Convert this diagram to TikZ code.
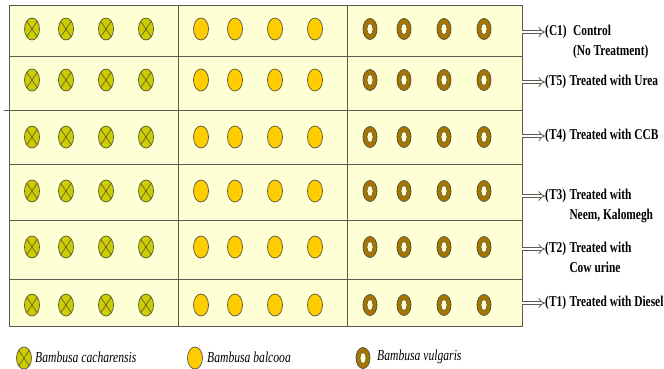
\documentclass[tikz,border=0pt]{standalone}
\usepackage{fontspec}
\setmainfont{Liberation Serif}
\newfontfamily\lblfont[FakeStretch=0.76]{Liberation Serif}
\usetikzlibrary{arrows.meta, positioning}
\definecolor{PaleCream}{HTML}{FFFFD5}
\definecolor{GridGray}{HTML}{5A5A50}
\definecolor{OliveYellow}{HTML}{CCCC00}
\definecolor{Amber}{HTML}{FFCC00}
\definecolor{Bronze}{HTML}{A87400}
\definecolor{RimDark}{HTML}{55553A}

\tikzset{
  gridline/.style={GridGray, line width=0.9pt},
  cach/.pic={
    \draw[RimDark, line width=0.7pt, fill=OliveYellow] (0,0) ellipse [x radius=7.5pt, y radius=11pt];
    \draw[RimDark, line width=0.6pt] (-5.3,-7.8) -- (5.3,7.8) (-5.3,7.8) -- (5.3,-7.8);
  },
  balc/.pic={
    \draw[RimDark, line width=0.7pt, fill=Amber] (0,0) ellipse [x radius=7.5pt, y radius=11pt];
  },
  vulg/.pic={
    \draw[RimDark, line width=0.8pt, fill=Bronze] (0,0) ellipse [x radius=7pt, y radius=10.5pt];
    \draw[RimDark, line width=0.5pt, fill=PaleCream] (0,0) ellipse [x radius=3pt, y radius=5.5pt];
  },
  tag/.style={font=\lblfont\bfseries\fontsize{15}{19.5}\selectfont, inner sep=0pt, anchor=west},
  desc/.style={font=\lblfont\bfseries\fontsize{15}{19.5}\selectfont, inner sep=0pt,
    anchor=north west, align=left, xshift=3pt},
  legendtxt/.style={font=\lblfont\itshape\fontsize{15.3}{17}\selectfont, inner sep=0pt, anchor=west},
  hollow/.style={draw=GridGray, line width=0.8pt, double=white, double distance=2.6pt, -{Implies}},
}

\begin{document}
\begin{tikzpicture}[x=1pt, y=-1pt]
  \useasboundingbox (0,0) rectangle (664,368);

  % plots
  \draw[gridline, fill=PaleCream] (9,5) rectangle (522,326);
  \foreach \yy in {56,164,220,279}
    \draw[gridline] (9,\yy) -- (522,\yy);
  \draw[gridline] (4,110) -- (522,110);
  \draw[gridline] (178,5) -- (178,326);
  \draw[gridline] (347,5) -- (347,326);

  % clumps
  \foreach \ry in {29,80,137,191,247,305}
    \foreach \cx in {23,57,97,137} {
      \pic at (9+\cx,\ry) {cach};
      \pic at (178+\cx,\ry) {balc};
      \pic at (347+\cx,\ry) {vulg};
    }

  % treatments
  \node[tag] (c1) at (545,32) {(C1)};
  \node[desc, xshift=3pt] (c1d) at (c1.north east) {Control\\(No Treatment)};
  \node[tag] (t5) at (545,82) {(T5)};
  \node[desc] (t5d) at (t5.north east) {Treated with Urea};
  \node[tag] (t4) at (545,136) {(T4)};
  \node[desc] (t4d) at (t4.north east) {Treated with CCB};
  \node[tag] (t3) at (545,196) {(T3)};
  \node[desc] (t3d) at (t3.north east) {Treated with\\Neem, Kalomegh};
  \node[tag] (t2) at (545,249) {(T2)};
  \node[desc] (t2d) at (t2.north east) {Treated with\\Cow urine};
  \node[tag] (t1) at (545,303) {(T1)};
  \node[desc] (t1d) at (t1.north east) {Treated with Diesel};

  \foreach \nm/\yy in {c1/32, t5/82, t4/136, t3/196, t2/249, t1/303} {
    \coordinate (e\nm) at (522,\yy);
    \draw[hollow] (e\nm) -- (\nm.west);
  }

  % legend
  \pic at (24,358) {cach};
  \node[legendtxt] (lgca) at (35,357) {Bambusa cacharensis};
  \pic at (195,358) {balc};
  \node[legendtxt] (lgba) at (207,357) {Bambusa balcooa};
  \pic at (363,358) {vulg};
  \node[legendtxt] (lgvu) at (377,357) {Bambusa vulgaris};
\end{tikzpicture}
\end{document}
